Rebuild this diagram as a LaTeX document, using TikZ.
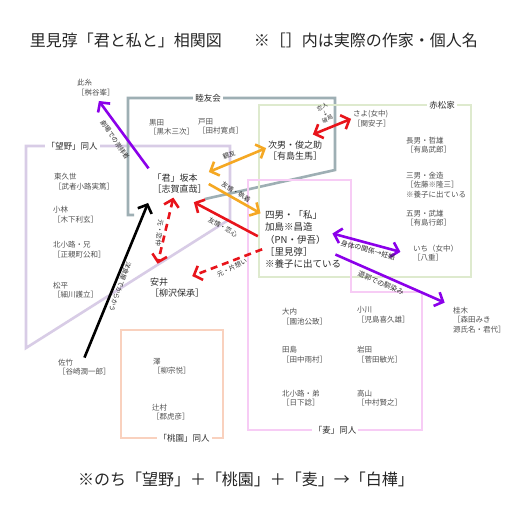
\documentclass[tikz,border=0pt]{standalone}
\usepackage{fontspec}
\setmainfont{Noto Sans CJK JP}
\usepackage{tikz}
\usetikzlibrary{arrows.meta}
\usetikzlibrary{calc}
\usepackage{xcolor}

\definecolor{grpgray}{RGB}{158,175,180}
\definecolor{grplav}{RGB}{216,204,230}
\definecolor{grpgreen}{RGB}{222,234,206}
\definecolor{grppink}{RGB}{247,204,245}
\definecolor{grppeach}{RGB}{249,209,190}
\definecolor{relorange}{RGB}{245,168,35}
\definecolor{relred}{RGB}{232,20,27}
\definecolor{relpurple}{RGB}{139,0,234}
\definecolor{txtdark}{RGB}{45,45,45}
\definecolor{txtgray}{RGB}{80,80,80}

\tikzset{
  person/.style={anchor=west, align=left, inner sep=1pt, text=txtdark, font=\fontsize{9}{11.5}\selectfont},
  member/.style={anchor=west, align=left, inner sep=1pt, text=txtgray, font=\fontsize{7.5}{9.5}\selectfont},
  grouplabel/.style={fill=white, inner sep=2pt, text=txtdark, font=\fontsize{8.5}{10}\selectfont},
  rellabel/.style={inner sep=1pt, text=txtdark, font=\fontsize{6.5}{7.5}\selectfont},
  grpline/.style={line width=2.6pt},
  rel/.style={line width=2.6pt},
}

\begin{document}
\begin{tikzpicture}[x=1pt, y=-1pt, >={Straight Barb[length=7pt,width=15pt]}]

\fill[white] (0,0) rectangle (512,512);
\useasboundingbox (0,0) rectangle (512,512);

\node[font=\fontsize{16}{18}\selectfont, text=black!85] (title) at (254,40) {里見弴「君と私と」相関図　　※［］内は実際の作家・個人名};

% groups
\draw[grpline, grplav] (26,146)--++(204,0)--++(0,73)--++(-204,129)--cycle;
\draw[grpline, grpgray] (205,199)--++(130,-29)--++(0,-72)--++(-207,0)--++(0,117)--++(6,0);
\draw[grpline, grpgreen] (259,105) rectangle (471,277);
\draw[grpline, grppink] (248,180)--++(103,0)--++(0,112)--++(71,0)--++(0,138)--++(-174,0)--cycle;
\draw[grpline, grppeach] (121,330) rectangle (223,438);

\node[grouplabel] (mutsuyukai) at (208,98) {睦友会};
\node[grouplabel] (bouya) at (72,146) {「望野」同人};
\node[grouplabel] (akamatsu) at (442,105) {赤松家};
\node[grouplabel] (mugi) at (335,430) {「麦」同人};
\node[grouplabel] (touen) at (184,438) {「桃園」同人};

% people
\node[person] (kimi) at (151.5,183.5) {「君」坂本\\［志賀直哉］};
\node[person] (jinan) at (267,150.5) {次男・俊之助\\［有島生馬］};
\node[person, font=\fontsize{9.5}{12.3}\selectfont] (watashi) at (264,239.5) {四男・「私」\\加島※昌造\\（PN・伊吾）\\［里見弴］\\※養子に出ている};
\node[person] (yasui) at (149,287.5) {安井\\［柳沢保承］};

\node[member] (koito) at (76,87.5) {此糸\\［桝谷峯］};
\node[member] (kuroda) at (148,127.5) {黒田\\［黒木三次］};
\node[member] (toda) at (197,126.5) {戸田\\［田村寛貞］};
\node[member] (sayo) at (352,118.5) {さよ(女中)\\［関安子］};
\node[member] (chonan) at (405,145) {長男・哲雄\\［有島武郎］};
\node[member] (sannan) at (405,185) {三男・金造\\［佐藤※隆三］\\※養子に出ている};
\node[member] (gonan) at (405,218) {五男・武雄\\［有島行郎］};
\node[member] (ichi) at (412,253) {いち（女中）\\［八重］};
\node[member] (katsuragi) at (452,320) {桂木\\［森田みき\\源氏名・君代］};

\node[member] (higashikuze) at (53,181.5) {東久世\\［武者小路実篤］};
\node[member] (kobayashi) at (52,214.5) {小林\\［木下利玄］};
\node[member] (kitakojiani) at (52,249.5) {北小路・兄\\［正親町公和］};
\node[member] (matsudaira) at (52,290) {松平\\［細川護立］};
\node[member] (satake) at (57,367) {佐竹\\［谷崎潤一郎］};

\node[member] (ouchi) at (281,316.5) {大内\\［園池公致］};
\node[member] (ogawa) at (356,314.5) {小川\\［児島喜久雄］};
\node[member] (tajima) at (281,354.5) {田島\\［田中雨村］};
\node[member] (iwata) at (356,354.5) {岩田\\［菅田敏光］};
\node[member] (kitakojiotouto) at (281,398) {北小路・弟\\［日下諗］};
\node[member] (takayama) at (356,398) {高山\\［中村賢之］};

\node[member] (sawa) at (152,366) {澤\\［柳宗悦］};
\node[member] (tsujimura) at (151,412) {辻村\\［郡虎彦］};

% relations
\draw[rel, relpurple, ->, shorten <=5pt, shorten >=5pt] (kimi.north west) -- (koito.south);
\draw[rel, black, ->, shorten >=9pt] (satake.north) -- (kimi.south west);
\draw[rel, relred, <->, dash pattern=on 7pt off 5pt, shorten <=3pt, shorten >=13pt] ($(kimi.south west)!.4!(kimi.south east)$) -- ($(yasui.north west)!.1!(yasui.north east)$);
\draw[rel, relred, ->, shorten <=7pt, shorten >=16pt] (watashi.west) -- (kimi.south);
\draw[rel, relred, ->, dash pattern=on 7pt off 5pt, shorten <=2pt, shorten >=1pt] ($(watashi.west)!.3!(watashi.south west)$) -- ($(yasui.north)!.5!(yasui.north east)$);
\draw[rel, relorange, <->, shorten <=1pt, shorten >=1pt] (kimi.north east) -- ($(jinan.west)!.25!(jinan.north west)$);
\draw[rel, relorange, ->, shorten <=1pt, shorten >=4pt] (kimi.east) -- ([yshift=-6pt]watashi.north west);
\draw[rel, relred, <->, shorten <=13pt, shorten >=1pt] ($(jinan.north)!.2!(jinan.north east)$) -- (sayo.west);
\draw[rel, relpurple, <->, shorten >=12pt] ([shift={(-10pt,6pt)}]watashi.east) -- ([yshift=-2pt]ichi.west);
\draw[rel, relpurple, ->, shorten >=8pt] ([shift={(-7pt,-15pt)}]watashi.east) -- (katsuragi.north west);

% relation labels
\node[rellabel, rotate=-56] (lbgekijo) at (115,140) {劇場での崇拝者};
\node[rellabel, rotate=-110] (lbyoshoku) at (120,287) {洋食屋でからかう};
\node[rellabel, rotate=-97] (lbkoinaka) at (159.5,233) {元・恋仲};
\node[rellabel, rotate=-30] (lbrenshin) at (223,227) {友情・恋心};
\node[rellabel, rotate=26] (lbkataomoi) at (232,268) {元・片想い};
\node[rellabel, rotate=22] (lbshinyu) at (229,155) {親友};
\node[rellabel, rotate=-31] (lbshuchaku) at (236,192) {友情・執着};
\node[rellabel, rotate=24, align=center, font=\fontsize{5.5}{6.5}\selectfont] (lbhakyoku) at (325,113) {恋人\\↓\\破局};
\node[rellabel, rotate=-15, font=\fontsize{7}{8}\selectfont] (lbninshin) at (368,250) {身体の関係→妊娠};
\node[rellabel, rotate=-23, font=\fontsize{7}{8}\selectfont] (lbnajimi) at (381,283) {遊郭での馴染み};

\node[font=\fontsize{16}{18}\selectfont, text=black!85] (note) at (246,479) {※のち「望野」＋「桃園」＋「麦」→「白樺」};

\end{tikzpicture}
\end{document}
